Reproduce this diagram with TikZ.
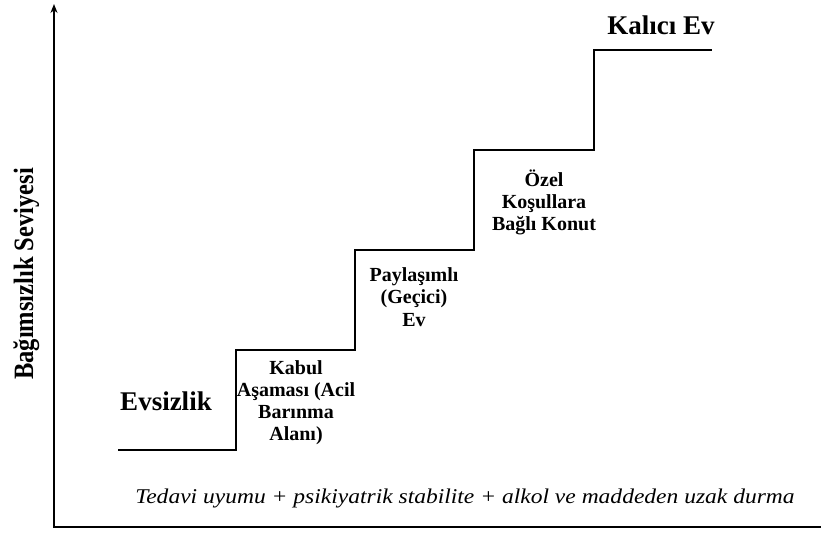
\documentclass[tikz,border=0pt]{standalone}
\usepackage{fontspec}
\setmainfont{Liberation Serif}
\newfontfamily\narrowserif{Liberation Serif}[FakeStretch=0.875]
\newfontfamily\wideserif{Liberation Serif}[FakeStretch=1.12]
\usetikzlibrary{arrows.meta}
\tikzset{
  axis/.style={line width=2pt, line cap=rect},
  stair/.style={line width=2.2pt, line join=miter},
  stagelabel/.style={font=\bfseries\fontsize{20}{22}\selectfont, align=center, inner sep=0pt, anchor=base},
  biglabel/.style={font=\bfseries\fontsize{27}{30}\selectfont, inner sep=0pt, anchor=base},
}
\begin{document}
\begin{tikzpicture}[x=1pt,y=-1pt]
\useasboundingbox (0,0) rectangle (821,534);
% axes
\coordinate (o) at (54,527);
\coordinate (ytop) at (54,4);
\coordinate (xend) at (821,527);
\draw[axis, -{Stealth[length=9pt,width=7pt]}] (o) -- (ytop);
\draw[axis] (o) -- (xend);
% stairs
\coordinate (s0) at (118,450);
\coordinate (s1) at (236,450);
\coordinate (s2) at (236,350);
\coordinate (s3) at (355,350);
\coordinate (s4) at (355,250);
\coordinate (s5) at (474,250);
\coordinate (s6) at (474,150);
\coordinate (s7) at (594,150);
\coordinate (s8) at (594,50);
\coordinate (s9) at (712,50);
\draw[stair] (s0) -- (s1) -- (s2) -- (s3) -- (s4) -- (s5) -- (s6) -- (s7) -- (s8) -- (s9);
% labels
\node[biglabel] (evs) at (166,410) {Evsizlik};
\node[biglabel] (kal) at (661,35) {Kalıcı Ev};
\node[stagelabel] (kab) at (296,440) {Kabul\\Aşaması (Acil\\Barınma\\Alanı)};
\node[stagelabel] (pay) at (414,326) {Paylaşımlı\\(Geçici)\\Ev};
\node[stagelabel] (oze) at (544,231) {Özel\\Koşullara\\Bağlı Konut};
\node[font=\narrowserif\bfseries\fontsize{28}{30}\selectfont, rotate=90, anchor=base, inner sep=0pt] (ylab) at (33,274) {Bağımsızlık Seviyesi};
\node[font=\wideserif\itshape\fontsize{21}{23}\selectfont, anchor=base, inner sep=0pt] (cond) at (465,503) {Tedavi uyumu + psikiyatrik stabilite + alkol ve maddeden uzak durma};
\end{tikzpicture}
\end{document}
